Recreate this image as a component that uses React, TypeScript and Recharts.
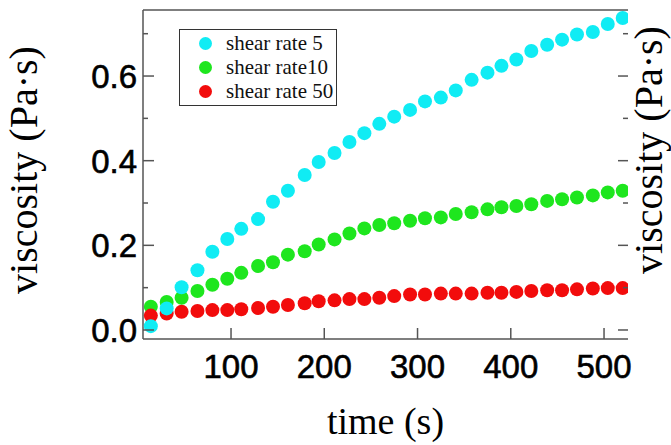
import React from 'react';
import { ScatterChart, Scatter, XAxis, YAxis } from 'recharts';

const times = [14, 31, 47, 64, 80, 96, 111, 129, 145, 161, 179, 194, 211, 227, 243, 259, 275, 292, 308, 325, 341, 358, 375, 390, 406, 422, 439, 455, 471, 488, 504, 520];

// viscosity (Pa·s)
const rate5 = [0.009, 0.051, 0.101, 0.141, 0.185, 0.215, 0.239, 0.262, 0.303, 0.329, 0.366, 0.397, 0.418, 0.444, 0.465, 0.487, 0.504, 0.52, 0.54, 0.549, 0.566, 0.591, 0.608, 0.624, 0.639, 0.659, 0.674, 0.686, 0.698, 0.704, 0.723, 0.737];
const rate10 = [0.055, 0.066, 0.076, 0.092, 0.107, 0.121, 0.135, 0.151, 0.16, 0.178, 0.186, 0.202, 0.214, 0.228, 0.24, 0.248, 0.252, 0.258, 0.264, 0.266, 0.274, 0.278, 0.285, 0.29, 0.293, 0.297, 0.305, 0.309, 0.313, 0.318, 0.325, 0.329];
const rate50 = [0.034, 0.039, 0.043, 0.045, 0.047, 0.047, 0.049, 0.052, 0.055, 0.059, 0.063, 0.068, 0.07, 0.073, 0.073, 0.076, 0.08, 0.084, 0.084, 0.086, 0.086, 0.086, 0.088, 0.088, 0.09, 0.092, 0.094, 0.094, 0.096, 0.098, 0.099, 0.099];

const seriesNames = ['shear rate 5', 'shear rate10', 'shear rate 50'];
const seriesColors = ['#10ecf4', '#1ee61e', '#f20c0c'];

const xTicks = [100, 200, 300, 400, 500];
const yTicks = [0, 0.1, 0.2, 0.3, 0.4, 0.5, 0.6, 0.7];

const AXIS = '#555';
const SANS = '"Liberation Sans", Arial, sans-serif';
const SERIF = '"Liberation Serif", "Times New Roman", serif';

const toRows = (vals: number[]) => vals.map((v, i) => ({ t: times[i], v }));
const allSeries = [rate5, rate10, rate50].map(toRows);

const isMajor = (v: number) => Math.round(v * 10) % 2 === 0;

const LeftTick = ({ x, y, payload }: any) => {
  const major = isMajor(payload.value);
  return (
    <g>
      <line x1={x} y1={y} x2={x + (major ? 11 : 5)} y2={y} stroke={AXIS} strokeWidth={1.5} />
      {major && (
        <text x={x - 6} y={y} dy="0.36em" textAnchor="end" fontFamily={SANS} fontSize={33} fill="#000" stroke="#000" strokeWidth={0.6}>
          {payload.value.toFixed(1)}
        </text>
      )}
    </g>
  );
};

const RightTick = ({ x, y, payload }: any) => {
  const major = isMajor(payload.value);
  return <line x1={x - (major ? 10 : 5)} y1={y} x2={x} y2={y} stroke={AXIS} strokeWidth={1.5} />;
};

const BottomTick = ({ x, y, payload }: any) => (
  <g>
    <line x1={x} y1={y} x2={x} y2={y - 11} stroke={AXIS} strokeWidth={1.5} />
    <text x={x} y={y + 39} textAnchor="middle" fontFamily={SANS} fontSize={33} fill="#000" stroke="#000" strokeWidth={0.6}>
      {payload.value}
    </text>
  </g>
);

const TopTick = ({ x, y }: any) => (
  <line x1={x} y1={y} x2={x} y2={y + 11} stroke={AXIS} strokeWidth={1.5} />
);

// legend box sits inside the plot, top-left
const LegendBox = () => (
  <div
    style={{
      position: 'absolute',
      left: 179,
      top: 29,
      boxSizing: 'border-box',
      width: 158,
      height: 77,
      border: '1.5px solid #333',
      background: '#fff',
      paddingTop: 1,
    }}
  >
    {seriesNames.map((name, i) => (
      <div key={name} style={{ height: 24, display: 'flex', alignItems: 'center' }}>
        <span
          style={{
            display: 'inline-block',
            width: 13,
            height: 13,
            borderRadius: '50%',
            background: seriesColors[i],
            marginLeft: 19,
            marginRight: 14,
          }}
        />
        <span style={{ fontFamily: SERIF, fontSize: 21, color: '#111', lineHeight: '24px' }}>{name}</span>
      </div>
    ))}
  </div>
);

const dot = (color: string) => (props: any) => (
  <circle cx={props.cx} cy={props.cy} r={7} fill={color} />
);

const vTitle = (dx: number, dy: number) => ({ viewBox }: any) => {
  const x = viewBox.x + dx;
  const y = viewBox.y + viewBox.height / 2 + dy;
  return (
    <text x={x} y={y} transform={`rotate(-90, ${x}, ${y})`} textAnchor="middle" fontFamily={SERIF} fontSize={40} fill="#000">
      viscosity (Pa·s)
    </text>
  );
};

const xTitle = ({ viewBox }: any) => (
  <text x={viewBox.x + viewBox.width / 2} y={viewBox.y + 95} textAnchor="middle" fontFamily={SERIF} fontSize={38} fill="#000">
    time (s)
  </text>
);

export default function App() {
  const xDomain = [5.6, 525.7];
  const yDomain = [-0.0213, 0.756];
  // draw order: green, red, cyan on top
  const order = [1, 2, 0];
  return (
    <div style={{ position: 'relative', width: 671, height: 445 }}>
      <style>{'body{margin:0;background:#fff}'}</style>
      <ScatterChart width={671} height={445} margin={{ top: 0, right: 0, bottom: 0, left: 0 }}>
        <XAxis
          dataKey="t"
          type="number"
          domain={xDomain}
          allowDataOverflow
          ticks={xTicks}
          interval={0}
          height={106}
          tickSize={0}
          tickMargin={0}
          tick={<BottomTick />}
          axisLine={{ stroke: AXIS, strokeWidth: 1.5 }}
          label={{ content: xTitle }}
        />
        <XAxis
          xAxisId="top"
          orientation="top"
          type="number"
          domain={xDomain}
          allowDataOverflow
          ticks={xTicks}
          interval={0}
          height={10}
          tickSize={0}
          tickMargin={0}
          tick={<TopTick />}
          axisLine={{ stroke: AXIS, strokeWidth: 1.5 }}
        />
        <YAxis
          dataKey="v"
          type="number"
          domain={yDomain}
          allowDataOverflow
          ticks={yTicks}
          interval={0}
          width={143}
          tickSize={0}
          tickMargin={0}
          tick={<LeftTick />}
          axisLine={{ stroke: AXIS, strokeWidth: 1.5 }}
          label={{ content: vTitle(37, -4.5) }}
        />
        <YAxis
          yAxisId="right"
          orientation="right"
          type="number"
          domain={yDomain}
          allowDataOverflow
          ticks={yTicks}
          interval={0}
          width={43}
          tickSize={0}
          tickMargin={0}
          tick={<RightTick />}
          axisLine={false}
          label={{ content: vTitle(34, -24.5) }}
        />
        {order.map((i) => (
          <Scatter
            key={seriesNames[i]}
            name={seriesNames[i]}
            data={allSeries[i]}
            fill={seriesColors[i]}
            shape={dot(seriesColors[i])}
            isAnimationActive={false}
          />
        ))}
      </ScatterChart>
      <LegendBox />
    </div>
  );
}
